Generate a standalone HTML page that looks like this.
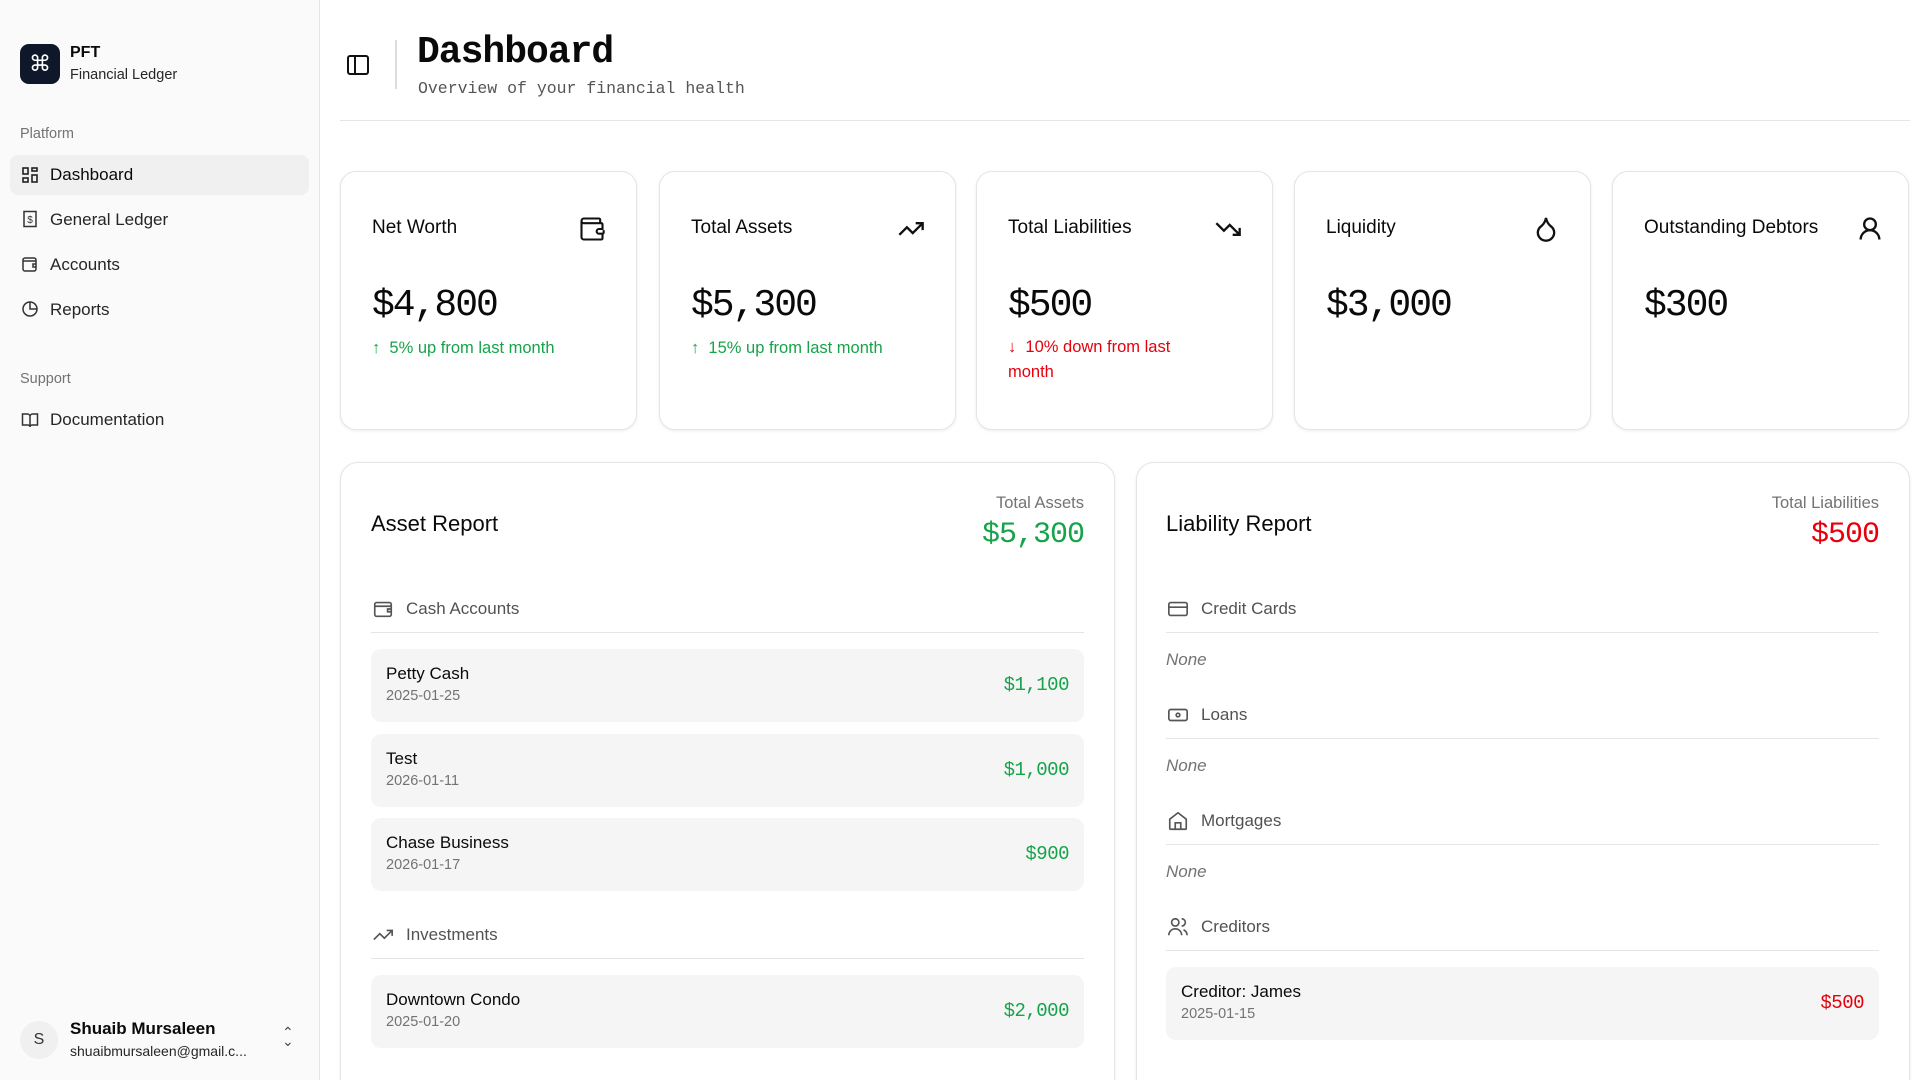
<!DOCTYPE html>
<html style="width:1920px;height:1080px;overflow:hidden"><head><meta charset="utf-8"><style>
*{box-sizing:border-box;margin:0;padding:0}
body{width:1920px;height:1080px;overflow:hidden;background:#fff;font-family:"Liberation Sans",sans-serif;color:#0a0a0a;position:relative}
.abs{position:absolute}
.side{left:0;top:0;width:320px;height:1080px;background:#fafafa;border-right:1px solid #e5e5e5}
.logo{left:20px;top:44px;width:40px;height:40px;border-radius:9px;background:#0f172a;color:#fff;font-size:22px;text-align:center;line-height:40px}
.nav{left:50px;font-size:17px;color:#262626}
.ic{left:21px;width:18px;height:18px}
.lbl{left:20px;font-size:14.5px;color:#737373}
.mono{font-family:"Liberation Mono",monospace}
.card{top:171px;width:297px;height:259px;border:1px solid #e5e5e5;border-radius:16px;box-shadow:0 1px 3px rgba(0,0,0,.08);background:#fff}
.card .t{position:absolute;left:31px;top:45px;font-size:19px}
.card .v{position:absolute;left:31px;top:112px;font-size:38px;font-family:"Liberation Mono",monospace;letter-spacing:-2px}
.card .s{position:absolute;left:31px;top:167px;font-size:16.5px;color:#16a34a}
.card svg{position:absolute;right:30px;top:43px}
.panel{top:462px;height:640px;border:1px solid #e5e5e5;border-radius:18px;box-shadow:0 1px 3px rgba(0,0,0,.08);background:#fff}
.sec{font-size:17px;color:#525252}
.hr{height:1px;background:#e5e5e5}
.row{background:#f5f5f5;border-radius:10px;height:73px}
.row .n{position:absolute;left:15px;top:15px;font-size:17px}
.row .d{position:absolute;left:15px;top:39px;font-size:14.5px;color:#737373}
.row .a{position:absolute;right:15px;top:25px;font-size:19px;font-family:"Liberation Mono",monospace;color:#16a34a;letter-spacing:-0.5px}
.none{font-size:17px;color:#737373;font-style:italic}
</style></head><body>
<div class="abs side"></div>
<div class="abs logo">⌘</div>
<div class="abs" style="left:70px;top:44px;font-size:16px;font-weight:bold">PFT</div>
<div class="abs" style="left:70px;top:67px;font-size:14.5px;color:#262626">Financial Ledger</div>
<div class="abs lbl" style="top:126px">Platform</div>
<div class="abs" style="left:10px;top:155px;width:299px;height:40px;background:#f0f0f0;border-radius:8px"></div>
<svg class="abs ic" style="top:166px" viewBox="0 0 18 18" fill="none" stroke="#222" stroke-width="1.6"><rect x="2" y="2" width="5" height="6"/><rect x="11" y="2" width="5" height="3"/><rect x="11" y="9" width="5" height="7"/><rect x="2" y="12" width="5" height="4"/></svg>
<div class="abs nav" style="top:165px;color:#0a0a0a">Dashboard</div>
<svg class="abs ic" style="top:210px" viewBox="0 0 18 18" fill="none" stroke="#333" stroke-width="1.5"><rect x="3" y="1.5" width="12" height="15"/><text x="9" y="13" font-size="10" text-anchor="middle" fill="#333" stroke="none">$</text></svg>
<div class="abs nav" style="top:210px">General Ledger</div>
<svg class="abs ic" style="top:255px" viewBox="0 0 18 18" fill="none" stroke="#333" stroke-width="1.5"><rect x="2" y="3" width="13" height="13" rx="2"/><path d="M2 6h13M15 9h-3v3h3"/></svg>
<div class="abs nav" style="top:255px">Accounts</div>
<svg class="abs ic" style="top:300px" viewBox="0 0 18 18" fill="none" stroke="#333" stroke-width="1.5"><circle cx="9" cy="9" r="7"/><path d="M9 2v7h7"/></svg>
<div class="abs nav" style="top:300px">Reports</div>
<div class="abs lbl" style="top:371px">Support</div>
<svg class="abs ic" style="top:411px" viewBox="0 0 18 18" fill="none" stroke="#333" stroke-width="1.5"><path d="M1.5 3h5a2.5 2.5 0 0 1 2.5 2.5V16a2 2 0 0 0-2-2H1.5zM16.5 3h-5A2.5 2.5 0 0 0 9 5.5V16a2 2 0 0 1 2-2h5.5z"/></svg>
<div class="abs nav" style="top:410px">Documentation</div>
<div class="abs" style="left:20px;top:1021px;width:38px;height:38px;border-radius:50%;background:#f0f0f0;text-align:center;line-height:38px;font-size:16px;color:#333">S</div>
<div class="abs" style="left:70px;top:1019px;font-size:17px;font-weight:bold">Shuaib Mursaleen</div>
<div class="abs" style="left:70px;top:1043px;font-size:14px;color:#262626">shuaibmursaleen@gmail.c...</div>
<div class="abs" style="left:282px;top:1028px;font-size:14px;color:#444;line-height:9px">⌃<br>⌄</div>

<svg class="abs" style="left:346px;top:53px" width="24" height="24" viewBox="0 0 24 24" fill="none" stroke="#111" stroke-width="2"><rect x="2" y="3" width="20" height="18" rx="2"/><path d="M9 3v18"/></svg>
<div class="abs" style="left:395px;top:40px;width:2px;height:49px;background:#ddd"></div>
<div class="abs mono" style="left:417px;top:31px;font-size:38px;font-weight:bold;letter-spacing:-1px">Dashboard</div>
<div class="abs mono" style="left:418px;top:79px;font-size:16.5px;color:#555">Overview of your financial health</div>
<div class="abs hr" style="left:340px;top:120px;width:1570px"></div>

<div class="abs card" style="left:340px"><div class="t">Net Worth</div>
<svg width="28" height="28" viewBox="0 0 24 24" fill="none" stroke="#111" stroke-width="1.8"><path d="M19 7V4a1 1 0 0 0-1-1H5a2 2 0 0 0 0 4h15a1 1 0 0 1 1 1v4h-3a2 2 0 0 0 0 4h3a1 1 0 0 0 1-1v-2M3 5v14a2 2 0 0 0 2 2h15a1 1 0 0 0 1-1v-4"/></svg>
<div class="v">$4,800</div><div class="s">↑&nbsp; 5% up from last month</div></div>
<div class="abs card" style="left:659px"><div class="t">Total Assets</div>
<svg width="28" height="28" viewBox="0 0 24 24" fill="none" stroke="#111" stroke-width="2"><path d="M22 7l-8.5 8.5-5-5L2 17M16 7h6v6"/></svg>
<div class="v">$5,300</div><div class="s">↑&nbsp; 15% up from last month</div></div>
<div class="abs card" style="left:976px"><div class="t">Total Liabilities</div>
<svg width="28" height="28" viewBox="0 0 24 24" fill="none" stroke="#111" stroke-width="2"><path d="M22 17l-8.5-8.5-5 5L2 7M16 17h6v-6"/></svg>
<div class="v">$500</div><div class="s" style="color:#e7000b;width:200px;line-height:25px;top:163px">↓&nbsp; 10% down from last month</div></div>
<div class="abs card" style="left:1294px"><div class="t">Liquidity</div>
<svg width="28" height="28" viewBox="0 0 24 24" fill="none" stroke="#111" stroke-width="2"><path d="M12 22a7 7 0 0 0 7-7c0-2-1-3.9-3-5.5S12.5 5 12 2.5C11.5 5 10 7.9 8 9.5S5 13 5 15a7 7 0 0 0 7 7z"/></svg>
<div class="v">$3,000</div></div>
<div class="abs card" style="left:1612px"><div class="t">Outstanding Debtors</div>
<svg width="28" height="28" viewBox="0 0 24 24" fill="none" stroke="#111" stroke-width="2" style="right:24px"><circle cx="12" cy="8" r="5"/><path d="M20 21a8 8 0 0 0-16 0"/></svg>
<div class="v">$300</div></div>

<div class="abs panel" style="left:340px;width:775px"></div>
<div class="abs" style="left:371px;top:511px;font-size:22px">Asset Report</div>
<div class="abs" style="left:884px;top:494px;width:200px;text-align:right;font-size:16.5px;color:#737373">Total Assets</div>
<div class="abs mono" style="left:884px;top:518px;width:200px;text-align:right;font-size:30px;color:#16a34a;letter-spacing:-1px">$5,300</div>
<svg class="abs" style="left:372px;top:598px" width="22" height="22" viewBox="0 0 24 24" fill="none" stroke="#555" stroke-width="1.8"><rect x="3" y="5" width="18" height="15" rx="2"/><path d="M3 9h18M21 12h-4v3h4"/></svg>
<div class="abs sec" style="left:406px;top:599px">Cash Accounts</div>
<div class="abs hr" style="left:371px;top:632px;width:713px"></div>
<div class="abs row" style="left:371px;top:649px;width:713px"><div class="n">Petty Cash</div><div class="d">2025-01-25</div><div class="a">$1,100</div></div>
<div class="abs row" style="left:371px;top:734px;width:713px"><div class="n">Test</div><div class="d">2026-01-11</div><div class="a">$1,000</div></div>
<div class="abs row" style="left:371px;top:818px;width:713px"><div class="n">Chase Business</div><div class="d">2026-01-17</div><div class="a">$900</div></div>
<svg class="abs" style="left:372px;top:924px" width="22" height="22" viewBox="0 0 24 24" fill="none" stroke="#555" stroke-width="1.8"><path d="M22 7l-8.5 8.5-5-5L2 17M16 7h6v6"/></svg>
<div class="abs sec" style="left:406px;top:925px">Investments</div>
<div class="abs hr" style="left:371px;top:958px;width:713px"></div>
<div class="abs row" style="left:371px;top:975px;width:713px"><div class="n">Downtown Condo</div><div class="d">2025-01-20</div><div class="a">$2,000</div></div>

<div class="abs panel" style="left:1136px;width:774px"></div>
<div class="abs" style="left:1166px;top:511px;font-size:22px">Liability Report</div>
<div class="abs" style="left:1679px;top:494px;width:200px;text-align:right;font-size:16.5px;color:#737373">Total Liabilities</div>
<div class="abs mono" style="left:1679px;top:518px;width:200px;text-align:right;font-size:30px;color:#e7000b;letter-spacing:-1px">$500</div>
<svg class="abs" style="left:1167px;top:598px" width="22" height="22" viewBox="0 0 24 24" fill="none" stroke="#555" stroke-width="1.8"><rect x="2" y="5" width="20" height="14" rx="2"/><path d="M2 10h20"/></svg>
<div class="abs sec" style="left:1201px;top:599px">Credit Cards</div>
<div class="abs hr" style="left:1166px;top:632px;width:713px"></div>
<div class="abs none" style="left:1166px;top:650px">None</div>
<svg class="abs" style="left:1167px;top:704px" width="22" height="22" viewBox="0 0 24 24" fill="none" stroke="#555" stroke-width="1.8"><rect x="2" y="6" width="20" height="12" rx="2"/><circle cx="12" cy="12" r="2"/></svg>
<div class="abs sec" style="left:1201px;top:705px">Loans</div>
<div class="abs hr" style="left:1166px;top:738px;width:713px"></div>
<div class="abs none" style="left:1166px;top:756px">None</div>
<svg class="abs" style="left:1167px;top:810px" width="22" height="22" viewBox="0 0 24 24" fill="none" stroke="#555" stroke-width="1.8"><path d="M3 10l9-7 9 7v10a1 1 0 0 1-1 1H4a1 1 0 0 1-1-1zM9 21v-7h6v7"/></svg>
<div class="abs sec" style="left:1201px;top:811px">Mortgages</div>
<div class="abs hr" style="left:1166px;top:844px;width:713px"></div>
<div class="abs none" style="left:1166px;top:862px">None</div>
<svg class="abs" style="left:1167px;top:916px" width="22" height="22" viewBox="0 0 24 24" fill="none" stroke="#555" stroke-width="1.8"><circle cx="9" cy="7" r="4"/><path d="M2 21a7 7 0 0 1 14 0M16 3a4 4 0 0 1 0 8M22 21a7 7 0 0 0-4-6"/></svg>
<div class="abs sec" style="left:1201px;top:917px">Creditors</div>
<div class="abs hr" style="left:1166px;top:950px;width:713px"></div>
<div class="abs row" style="left:1166px;top:967px;width:713px"><div class="n">Creditor: James</div><div class="d">2025-01-15</div><div class="a" style="color:#e7000b">$500</div></div>
</body></html>
